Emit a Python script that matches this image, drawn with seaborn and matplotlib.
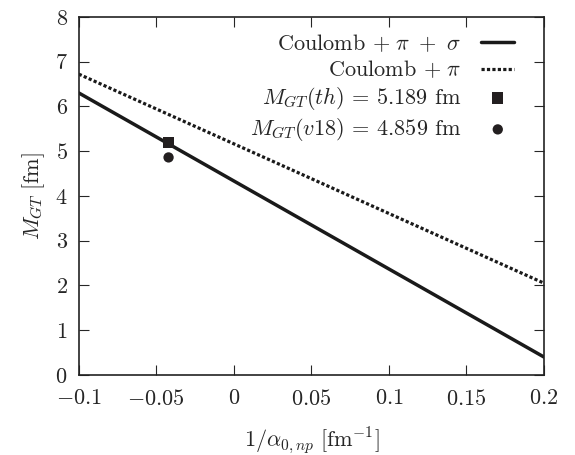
import matplotlib
matplotlib.use("Agg")
import matplotlib.pyplot as plt
import seaborn as sns
import pandas as pd

x_ends = [-0.1, 0.2]
y_full = [6.30, 0.40]
y_pi = [6.72, 2.05]
x_point = [-0.0421]
y_th = [5.189]
y_v18 = [4.859]
xticks = [-0.1, -0.05, 0, 0.05, 0.1, 0.15, 0.2]
yticks = [0, 1, 2, 3, 4, 5, 6, 7, 8]

sns.set_style("ticks")
plt.rcParams.update({
    "font.family": "serif",
    "font.serif": ["cmr10", "DejaVu Serif"],
    "mathtext.fontset": "cm",
    "axes.formatter.use_mathtext": True,
    "font.size": 16,
    "axes.linewidth": 1.2,
    "axes.edgecolor": "#222222",
    "xtick.direction": "in",
    "ytick.direction": "in",
    "xtick.top": True,
    "ytick.right": True,
    "xtick.major.size": 7,
    "ytick.major.size": 7,
})

fig, ax = plt.subplots(figsize=(5.75, 4.55), dpi=100)
fig.subplots_adjust(left=0.137, right=0.946, top=0.963, bottom=0.176)

df1 = pd.DataFrame({"x": x_ends, "y": y_full})
df2 = pd.DataFrame({"x": x_ends, "y": y_pi})
sns.lineplot(data=df1, x="x", y="y", ax=ax, color="#1a1a1a", lw=2.5,
             label=r"Coulomb $+\ \pi\ +\ \sigma$")
sns.lineplot(data=df2, x="x", y="y", ax=ax, color="#1a1a1a", lw=2.3,
             linestyle=(0, (1.0, 0.7)), label=r"Coulomb $+\ \pi$")
sns.scatterplot(x=x_point, y=y_th, ax=ax, marker="s", s=65, color="#231f20",
                edgecolor="none", label=r"$M_{GT}(th)$ = 5.189 fm", zorder=5)
sns.scatterplot(x=x_point, y=y_v18, ax=ax, marker="o", s=55, color="#231f20",
                edgecolor="none", label=r"$M_{GT}(v18)$ = 4.859 fm", zorder=5)

ax.set_xlim(-0.1, 0.2)
ax.set_ylim(0, 8)
ax.set_xticks(xticks)
ax.set_yticks(yticks)
ax.set_xticklabels([r"$-0.1$", r"$-0.05$", r"$0$", r"$0.05$", r"$0.1$", r"$0.15$", r"$0.2$"])
ax.set_yticklabels([f"${v}$" for v in yticks])
ax.tick_params(axis="x", pad=10)
ax.tick_params(axis="y", pad=8)
ax.set_xlabel(r"$1/\alpha_{0,np}\ [\mathrm{fm}^{-1}]$", labelpad=12)
ax.set_ylabel(r"$M_{GT}\ [\mathrm{fm}]$", labelpad=6)

leg = ax.legend(loc="upper right", frameon=False, markerfirst=False,
                handlelength=1.5, handletextpad=0.9, labelspacing=0.2,
                borderaxespad=0.3, borderpad=0.4, fontsize=16,
                bbox_to_anchor=(0.97, 1.0))
fig.savefig("out.png", dpi=100)
